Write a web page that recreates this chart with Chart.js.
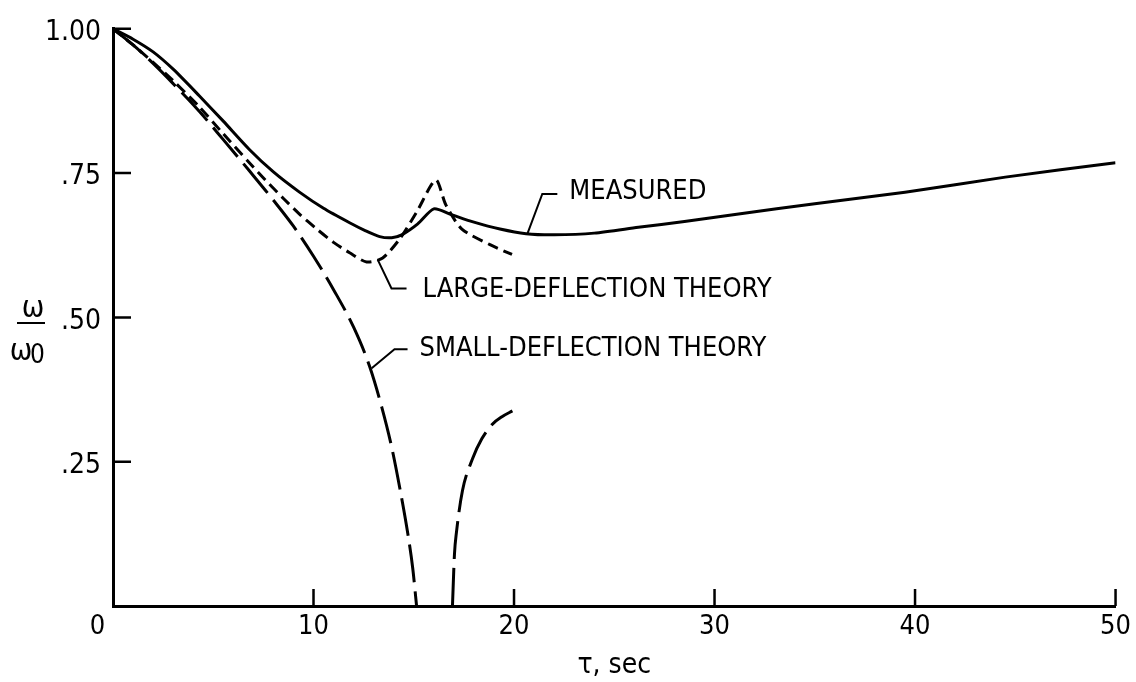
<!DOCTYPE html>
<html>
<head>
<meta charset="utf-8">
<script src="https://cdn.jsdelivr.net/npm/chart.js@4.4.1/dist/chart.umd.min.js"></script>
<style>
html,body{margin:0;padding:0;background:#fff;}
#wrap{width:1136px;height:682px;position:relative;}
canvas{display:block;}
</style>
</head>
<body>
<div id="wrap"><canvas id="c" width="1136" height="682"></canvas></div>
<script>
// ---- data ----
const xTickValues = [0, 10, 20, 30, 40, 50];
const yTickValues = [0.25, 0.5, 0.75, 1.0];
const yTickLabels = ['.25', '.50', '.75', '1.00'];

const measuredX = [0, 1, 2, 3, 4.3, 5.5, 6.8, 8, 9.3, 10.5, 11.8, 12.6, 13.3, 13.9, 14.4, 15.2, 16.0, 16.8, 18, 19.3, 20.6, 22, 24, 26.2, 28.5, 31.2, 35, 39.5, 44.5, 50];
const measuredY = [1.0, 0.982, 0.96, 0.93, 0.884, 0.84, 0.791, 0.752, 0.717, 0.689, 0.664, 0.650, 0.640, 0.638, 0.643, 0.662, 0.688, 0.679, 0.665, 0.653, 0.645, 0.643, 0.646, 0.656, 0.666, 0.679, 0.697, 0.717, 0.743, 0.768];

const largeX = [0, 1, 2, 3, 4.3, 5.5, 6.8, 7.6, 8.5, 9.3, 10.2, 11, 11.8, 12.65, 13.45, 14.3, 15.15, 16.1, 16.6, 17.4, 18.8, 19.9];
const largeY = [1.0, 0.972, 0.942, 0.91, 0.865, 0.818, 0.768, 0.738, 0.706, 0.679, 0.652, 0.630, 0.612, 0.596, 0.603, 0.636, 0.683, 0.738, 0.695, 0.653, 0.626, 0.609];

const smallX = [0, 1, 2, 3, 4.3, 5.5, 6.8, 8, 9, 10, 11, 12, 12.8, 13.4, 13.9, 14.3, 14.7, 14.95, 15.14, 16, 16.93, 17.03, 17.13, 17.43, 17.93, 18.4, 18.92, 19.4, 19.92];
const smallY = [1.0, 0.972, 0.94, 0.905, 0.857, 0.808, 0.754, 0.703, 0.658, 0.606, 0.548, 0.483, 0.415, 0.345, 0.275, 0.205, 0.126, 0.065, 0.0, null, 0.0, 0.09, 0.128, 0.200, 0.255, 0.29, 0.315, 0.328, 0.338];

const curveLabels = [
  { text: 'MEASURED', leader: [[20.67, 0.645], [21.41, 0.714], [22.16, 0.714]], at: [22.76, 0.717] },
  { text: 'LARGE-DEFLECTION THEORY', leader: [[13.2, 0.600], [13.89, 0.550], [14.64, 0.550]], at: [15.44, 0.548] },
  { text: 'SMALL-DEFLECTION THEORY', leader: [[12.9, 0.412], [14.04, 0.445], [14.69, 0.445]], at: [15.29, 0.445] }
];

const FONT = '"Liberation Sans Narrow", "DejaVu Sans Condensed", "Arial Narrow", sans-serif';

function pts(xs, ys) { return xs.map((x, i) => ({ x: x, y: ys[i] })); }

const inwardTicks = {
  id: 'inwardTicks',
  afterDraw(chart) {
    const ctx = chart.ctx, xs = chart.scales.x, ys = chart.scales.y;
    const a = chart.chartArea;
    ctx.save();
    ctx.strokeStyle = '#000';
    ctx.lineWidth = 2.5;
    ctx.beginPath();
    xTickValues.forEach(v => {
      if (v === 0) return;
      const px = xs.getPixelForValue(v);
      ctx.moveTo(px, a.bottom);
      ctx.lineTo(px, a.bottom - 17);
    });
    yTickValues.forEach(v => {
      const py = ys.getPixelForValue(v);
      ctx.moveTo(a.left, py);
      ctx.lineTo(a.left + 18, py);
    });
    ctx.stroke();
    ctx.restore();
  }
};

const annotations = {
  id: 'annotations',
  afterDatasetsDraw(chart) {
    const ctx = chart.ctx, xs = chart.scales.x, ys = chart.scales.y;
    const a = chart.chartArea;
    ctx.save();
    ctx.strokeStyle = '#000';
    ctx.fillStyle = '#000';
    ctx.lineWidth = 2;
    ctx.font = '27px ' + FONT;
    ctx.textBaseline = 'middle';
    ctx.textAlign = 'left';
    curveLabels.forEach(l => {
      ctx.beginPath();
      l.leader.forEach((p, i) => {
        const px = xs.getPixelForValue(p[0]), py = ys.getPixelForValue(p[1]);
        if (i === 0) ctx.moveTo(px, py); else ctx.lineTo(px, py);
      });
      ctx.stroke();
      ctx.fillText(l.text, xs.getPixelForValue(l.at[0]), ys.getPixelForValue(l.at[1]));
    });
    // x-axis title
    ctx.textAlign = 'center';
    ctx.textBaseline = 'alphabetic';
    ctx.font = '28px ' + FONT;
    ctx.fillText('\u03C4, sec', (a.left + a.right) / 2, 673);
    // y-axis title as a fraction  omega / omega0
    ctx.font = '30px ' + FONT;
    ctx.fillText('\u03C9', 33, 317);
    ctx.beginPath();
    ctx.moveTo(17, 323);
    ctx.lineTo(45, 323);
    ctx.stroke();
    ctx.fillText('\u03C9', 21, 360);
    ctx.font = '26px ' + FONT;
    ctx.textAlign = 'left';
    ctx.fillText('0', 30, 363);
    ctx.restore();
  }
};

new Chart(document.getElementById('c'), {
  type: 'line',
  data: {
    datasets: [
      { label: 'MEASURED', data: pts(measuredX, measuredY), borderColor: '#000', borderWidth: 3, pointRadius: 0, tension: 0.25, fill: false },
      { label: 'LARGE-DEFLECTION THEORY', data: pts(largeX, largeY), borderColor: '#000', borderWidth: 3, borderDash: [11, 6], pointRadius: 0, tension: 0.25, fill: false },
      { label: 'SMALL-DEFLECTION THEORY', data: pts(smallX, smallY), borderColor: '#000', borderWidth: 3, borderDash: [38, 9], pointRadius: 0, cubicInterpolationMode: 'monotone', fill: false, spanGaps: false }
    ]
  },
  options: {
    responsive: false,
    animation: false,
    devicePixelRatio: 1,
    layout: { padding: { left: 0, top: 26, right: 19, bottom: 0 } },
    plugins: { legend: { display: false }, tooltip: { enabled: false }, title: { display: false } },
    scales: {
      x: {
        type: 'linear', min: 0, max: 50,
        afterBuildTicks: s => { s.ticks = xTickValues.map(v => ({ value: v })); },
        afterFit: s => { s.height = 76; },
        grid: { display: false, drawTicks: false },
        border: { display: true, color: '#000', width: 3 },
        ticks: { color: '#000', padding: 5, maxRotation: 0, autoSkip: false, font: { family: FONT, size: 27 },
                 callback: v => (v === 0 ? '0\u2007\u2007' : String(v)) }
      },
      y: {
        type: 'linear', min: 0, max: 1,
        afterBuildTicks: s => { s.ticks = yTickValues.map(v => ({ value: v })); },
        afterFit: s => { s.width = 113; },
        grid: { display: false, drawTicks: false },
        border: { display: true, color: '#000', width: 3 },
        ticks: { color: '#000', padding: 12, labelOffset: 4, autoSkip: false, font: { family: FONT, size: 28 },
                 callback: v => { const i = yTickValues.indexOf(v); return i >= 0 ? yTickLabels[i] : ''; } }
      }
    }
  },
  plugins: [inwardTicks, annotations]
});
</script>
</body>
</html>
